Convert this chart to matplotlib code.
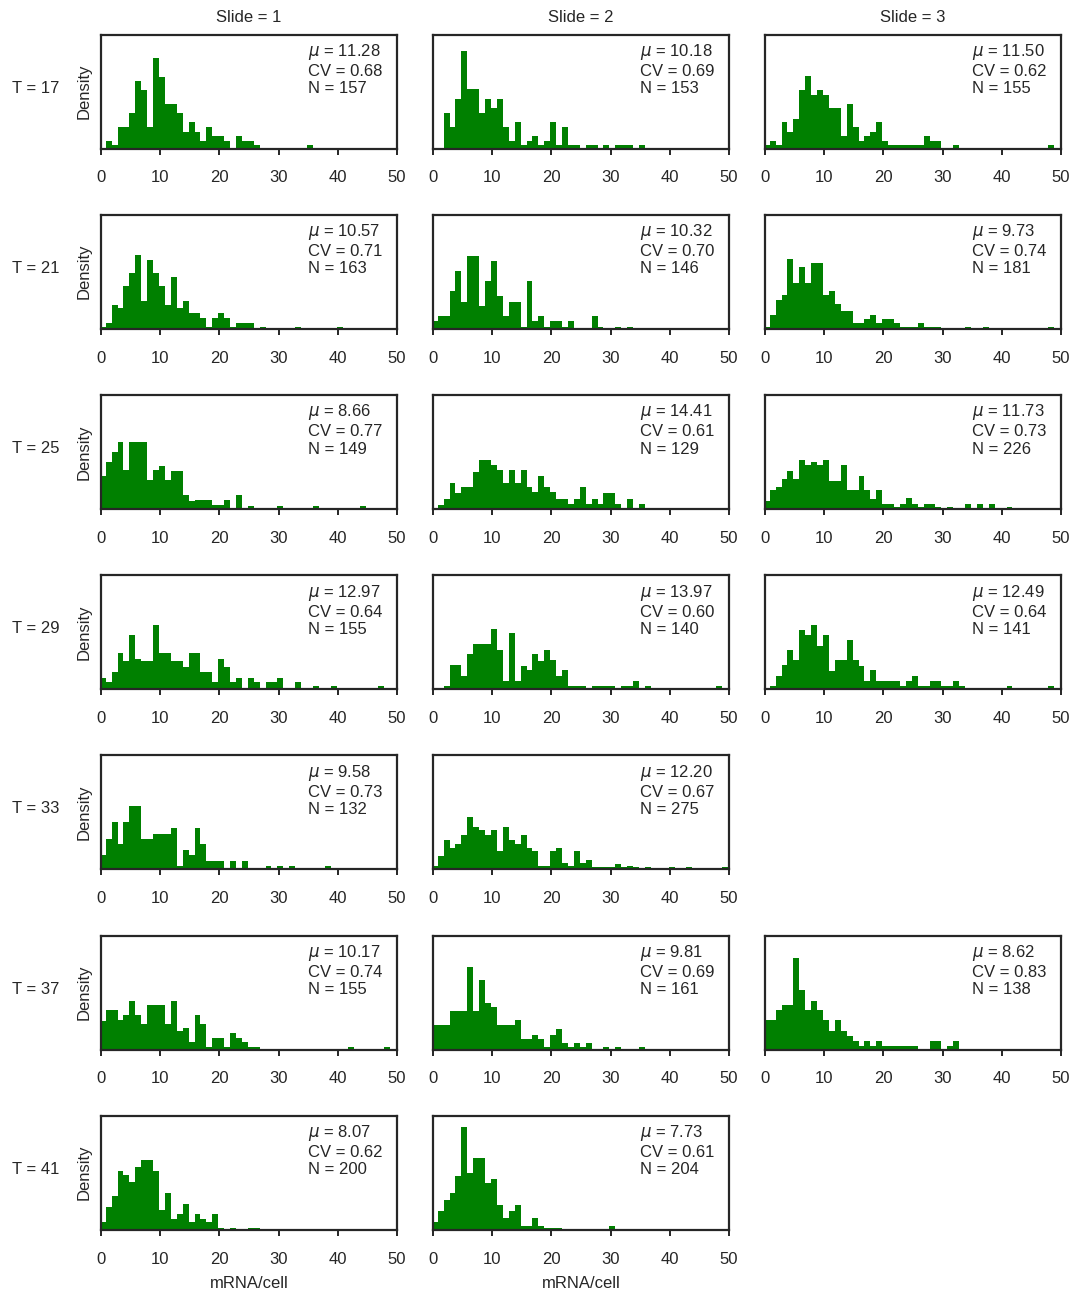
import numpy as np
import matplotlib
matplotlib.use("Agg")
from matplotlib import pyplot as plt

times = [17, 21, 25, 29, 33, 37, 41]
slides = [1, 2, 3]

# density of cells per mRNA bin (in %), bins of width 1 starting at -0.2
h17_1 = [0, 1.1, 0.5, 3.2, 3.2, 5.2, 10.0, 8.6, 3.2, 13.4, 10.5, 6.6, 6.6, 5.2, 2.5, 3.9, 2.5, 1.1, 3.2, 1.8,
         1.8, 1.1, 0, 1.8, 1.1, 1.1, 0.5, 0, 0, 0, 0, 0, 0, 0, 0, 0.5]
h17_2 = [0, 0, 5.2, 3.2, 7.3, 14.3, 8.8, 8.8, 5.2, 7.3, 6.0, 7.3, 3.2, 1.1, 3.9, 0.5, 1.1, 1.8, 0.5, 1.1,
         3.9, 0.5, 3.2, 0.5, 0.5, 0, 0.5, 0.5, 0, 0.5, 0, 0.5, 0.5, 0.5, 0, 0.5]
h17_3 = [0.5, 1.1, 0.5, 3.9, 2.5, 4.4, 8.6, 10.7, 7.9, 8.6, 7.9, 5.9, 5.9, 1.8, 6.6, 3.2, 1.1, 1.8, 2.5, 3.9,
         1.1, 0.5, 0.5, 0.5, 0.5, 0.5, 0.5, 1.8, 1.1, 1.1, 0, 0, 0.5, 0, 0, 0, 0, 0, 0, 0,
         0, 0, 0, 0, 0, 0, 0, 0, 0.5]
h21_1 = [0.3, 0.9, 3.5, 3.0, 6.3, 8.2, 10.9, 4.1, 10.1, 8.2, 6.3, 3.5, 7.6, 3.0, 4.1, 2.3, 2.3, 1.6, 0.3, 1.6,
         2.3, 1.6, 0.3, 0.9, 0.9, 0.9, 0, 0.3, 0, 0, 0, 0, 0, 0.3, 0, 0, 0, 0, 0, 0, 0.3]
h21_2 = [1.1, 1.8, 1.8, 5.5, 8.5, 4.0, 10.7, 10.7, 3.3, 7.0, 10.0, 4.8, 1.8, 4.0, 4.0, 0.3, 7.0, 1.1, 1.8, 0.3,
         1.1, 1.1, 0.3, 1.1, 0, 0, 0, 1.8, 0.3, 0, 0, 0.3, 0, 0.3]
h21_3 = [0.3, 2.0, 4.3, 4.9, 10.2, 6.7, 9.1, 6.7, 9.7, 9.7, 4.9, 5.5, 3.7, 2.6, 2.6, 0.8, 0.8, 1.4, 2.0, 0.8,
         1.4, 1.4, 0.8, 0.3, 0.3, 0.3, 0.8, 0.3, 0.3, 0.3, 0, 0, 0, 0, 0.3, 0, 0, 0.3, 0, 0,
         0, 0, 0, 0, 0, 0, 0, 0, 0.3]
h25_1 = [4.8, 6.9, 8.4, 9.8, 5.7, 9.8, 9.8, 9.8, 4.2, 5.7, 6.3, 4.2, 5.6, 5.6, 2.0, 1.2, 1.3, 1.3, 1.3, 0.6,
         0.6, 1.3, 0, 2.0, 0, 0.5, 0, 0, 0, 0, 0.5, 0, 0, 0, 0, 0, 0.5, 0, 0, 0,
         0, 0, 0, 0, 0.5]
h25_2 = [0, 0.6, 1.5, 3.8, 2.3, 3.2, 3.2, 5.4, 7.2, 7.2, 6.4, 5.7, 3.8, 5.7, 3.8, 5.7, 3.2, 2.5, 4.8, 3.2,
         2.5, 1.5, 1.5, 0.7, 1.5, 3.2, 0.7, 1.5, 0.7, 2.3, 2.3, 0.7, 0, 1.5, 0, 0.7]
h25_3 = [1.2, 2.8, 3.2, 4.4, 5.6, 4.4, 7.2, 6.4, 6.9, 6.4, 7.2, 4.1, 4.1, 6.4, 2.8, 2.8, 4.9, 2.8, 1.5, 2.8,
         0.7, 0.7, 0.3, 0.7, 1.6, 0.7, 0.3, 0.7, 0.7, 0.3, 0, 0.3, 0, 0, 0.7, 0, 0.7, 0, 0.7, 0,
         0, 0.3]
h29_1 = [1.7, 1.1, 2.5, 5.3, 4.1, 7.9, 4.4, 4.1, 4.1, 9.4, 5.3, 5.3, 4.1, 4.1, 3.2, 5.3, 5.3, 2.5, 2.5, 1.1,
         4.4, 3.2, 1.1, 1.7, 0, 1.7, 1.1, 0, 1.1, 1.1, 1.7, 0, 0, 1.1, 0, 0, 0.5, 0, 0, 0.5,
         0, 0, 0, 0, 0, 0, 0, 0.5]
h29_2 = [0, 0, 0.5, 3.6, 3.6, 2.0, 5.1, 6.6, 6.6, 6.6, 8.9, 5.8, 1.2, 8.2, 1.2, 3.4, 2.8, 5.1, 4.2, 5.8,
         4.3, 2.0, 2.8, 0.5, 0.5, 0.5, 0, 0.5, 0.5, 0.5, 0.5, 0, 0.5, 0.5, 1.2, 0, 0.5, 0, 0, 0,
         0, 0, 0, 0, 0, 0, 0, 0, 0.5]
h29_3 = [0, 0.5, 2.0, 3.6, 5.8, 4.3, 8.7, 7.9, 9.5, 6.4, 7.9, 2.7, 4.3, 4.3, 7.2, 4.3, 3.4, 1.2, 2.8, 1.2,
         1.2, 1.2, 1.2, 0.5, 1.2, 2.0, 0.5, 0.5, 1.2, 1.2, 0.5, 0.5, 1.2, 0.5, 0, 0, 0, 0, 0, 0,
         0, 0.5, 0, 0, 0, 0, 0, 0, 0.5]
h33_1 = [2.1, 4.4, 6.9, 3.7, 6.9, 9.4, 9.4, 4.4, 4.4, 5.2, 5.2, 5.2, 6.1, 0.5, 2.8, 2.1, 6.1, 3.7, 1.2, 1.2,
         1.2, 0, 1.2, 0, 1.2, 0, 0, 0, 0.5, 0, 0.5, 0, 0.5, 0, 0, 0, 0, 0, 0.5]
h33_2 = [0.5, 2.0, 4.3, 3.1, 3.8, 5.1, 7.7, 6.3, 5.8, 5.1, 5.8, 2.7, 6.3, 4.3, 3.8, 5.1, 3.1, 2.7, 0.5, 0.5,
         2.7, 3.1, 1.0, 0.5, 2.7, 1.0, 1.3, 0.3, 0.3, 0.3, 0.3, 0.8, 0.3, 0.5, 0.3, 0, 0.3, 0, 0, 0,
         0.3, 0, 0, 0.3, 0, 0, 0, 0, 0, 0.3]
h37_1 = [4.2, 5.8, 5.8, 4.4, 5.1, 7.1, 5.1, 3.7, 6.6, 6.6, 6.6, 3.7, 7.1, 2.7, 3.2, 1.1, 5.1, 3.7, 0.3, 1.7,
         1.7, 0.3, 2.5, 1.7, 1.1, 0.3, 0.3, 0, 0, 0, 0, 0, 0, 0, 0, 0, 0, 0, 0, 0,
         0, 0, 0.3, 0, 0, 0, 0, 0, 0.3]
h37_2 = [3.6, 3.6, 3.6, 5.7, 5.7, 5.7, 12.2, 5.7, 10.2, 6.9, 6.2, 3.6, 3.6, 3.6, 4.3, 1.6, 1.6, 2.2, 1.6, 0.3,
         2.2, 3.0, 1.0, 0.3, 1.0, 0.3, 1.0, 0, 0, 0.3, 0, 0.3, 0, 0, 0, 0.3]
h37_3 = [4.3, 4.3, 5.8, 6.6, 6.6, 13.5, 8.7, 5.8, 7.2, 5.8, 4.3, 2.7, 4.3, 2.7, 2.0, 1.2, 0.5, 1.2, 0.5, 1.2,
         0.5, 0.5, 0.5, 0.5, 0.5, 0.5, 0, 0, 1.2, 1.2, 0, 0.5, 1.2]
h41_1 = [1.2, 3.3, 4.9, 8.6, 8.1, 7.0, 9.2, 10.2, 10.2, 8.6, 2.9, 5.4, 1.6, 2.3, 3.8, 1.2, 2.3, 1.6, 1.2, 2.3,
         0.3, 0, 0.3, 0, 0, 0.3, 0.3]
h41_2 = [1.2, 2.8, 4.4, 5.4, 7.9, 15.1, 8.4, 10.6, 10.6, 6.9, 7.4, 3.7, 1.7, 2.8, 3.7, 0.6, 0.6, 1.7, 0.6, 0.3,
         0.3, 0.3, 0, 0, 0, 0, 0, 0, 0, 0, 0.6]

densities = [
    [h17_1, h17_2, h17_3],
    [h21_1, h21_2, h21_3],
    [h25_1, h25_2, h25_3],
    [h29_1, h29_2, h29_3],
    [h33_1, h33_2, None],
    [h37_1, h37_2, h37_3],
    [h41_1, h41_2, None],
]

mu_vals = [[11.28, 10.18, 11.50], [10.57, 10.32, 9.73], [8.66, 14.41, 11.73], [12.97, 13.97, 12.49],
           [9.58, 12.20, None], [10.17, 9.81, 8.62], [8.07, 7.73, None]]
cv_vals = [[0.68, 0.69, 0.62], [0.71, 0.70, 0.74], [0.77, 0.61, 0.73], [0.64, 0.60, 0.64],
           [0.73, 0.67, None], [0.74, 0.69, 0.83], [0.62, 0.61, None]]
n_vals = [[157, 153, 155], [163, 146, 181], [149, 129, 226], [155, 140, 141],
          [132, 275, None], [155, 161, 138], [200, 204, None]]

binEdges = np.arange(51) - 0.2
outputFigure = "out.png"

plt.rcParams["font.family"] = ["Liberation Sans", "DejaVu Sans"]
plt.rcParams["font.size"] = 12
plt.rcParams["text.color"] = "#262626"
plt.rcParams["axes.labelcolor"] = "#262626"
plt.rcParams["axes.edgecolor"] = "#262626"
plt.rcParams["xtick.color"] = "#262626"
plt.rcParams["axes.linewidth"] = 1.6

figW, figH = 1075, 1291
figure = plt.figure(figsize=(figW / 100, figH / 100), dpi=100)

for r, t in enumerate(times):
    for c, s in enumerate(slides):
        heights = densities[r][c]
        if heights is None:
            continue
        left = 101 + 332 * c
        top = 34.5 + 180.2 * r
        ax = figure.add_axes([left / figW, 1 - (top + 114) / figH, 296 / figW, 114 / figH])

        vals = np.zeros(50)
        vals[:len(heights)] = np.array(heights) / 100
        ax.hist(binEdges[:-1] + 0.5, bins=binEdges, weights=vals,
                histtype="stepfilled", color="green", linewidth=0)
        ax.set_xlim(0, 50)
        ax.set_ylim(0, 0.168)
        ax.set_xticks(range(0, 51, 10))
        ax.set_yticks([])
        ax.tick_params(axis="x", length=4.2, width=1.4, pad=11.5, labelsize=12)

        ax.text(0.70, 0.935,
                f"$\\mu$ = {mu_vals[r][c]:.2f}\nCV = {cv_vals[r][c]:.2f}\nN = {n_vals[r][c]}",
                transform=ax.transAxes, ha="left", va="top", linespacing=1.18, fontsize=12)

        if c == 0:
            ax.set_ylabel("Density", labelpad=7, fontsize=12)
            ax.text(-0.30, 0.53, f"T = {t}", transform=ax.transAxes,
                    ha="left", va="center", fontsize=12)
        if r == 0:
            ax.set_title(f"Slide = {s}", pad=9, fontsize=12)
        if r == len(times) - 1:
            ax.set_xlabel("mRNA/cell", fontsize=12, labelpad=7)

plt.savefig(outputFigure, dpi=100)
